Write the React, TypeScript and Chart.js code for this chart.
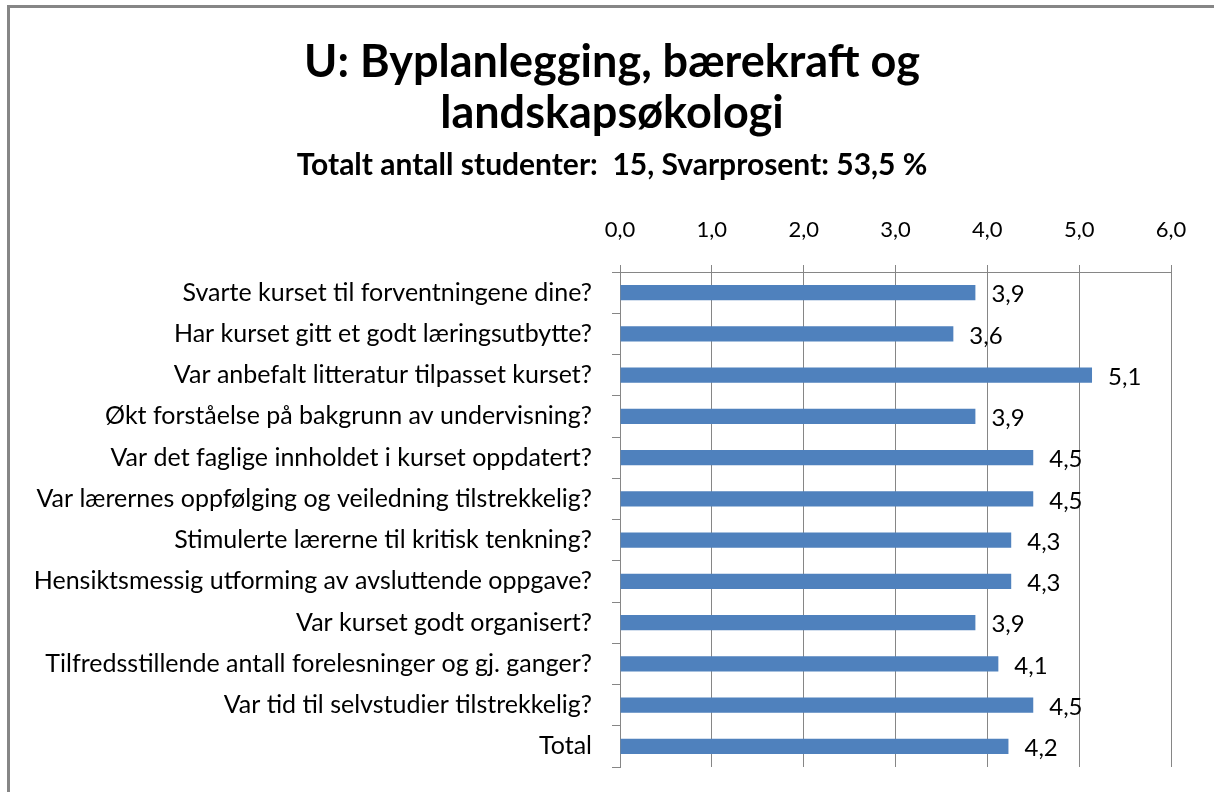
import React, { useEffect, useRef } from "react";
import { Chart, registerables } from "chart.js";

Chart.register(...registerables);

const categories: string[] = [
  "Svarte kurset til forventningene dine?",
  "Har kurset gitt et godt læringsutbytte?",
  "Var anbefalt litteratur tilpasset kurset?",
  "Økt forståelse på bakgrunn av undervisning?",
  "Var det faglige innholdet i kurset oppdatert?",
  "Var lærernes oppfølging og veiledning tilstrekkelig?",
  "Stimulerte lærerne til kritisk tenkning?",
  "Hensiktsmessig utforming av avsluttende oppgave?",
  "Var kurset godt organisert?",
  "Tilfredsstillende antall forelesninger og gj. ganger?",
  "Var tid til selvstudier tilstrekkelig?",
  "Total",
];

const values: number[] = [3.87, 3.63, 5.14, 3.87, 4.5, 4.5, 4.26, 4.26, 3.87, 4.12, 4.5, 4.23];

const axisMin = 0;
const axisMax = 6;
const axisStep = 1;

const titleLines: string[] = ["U: Byplanlegging, bærekraft og", "landskapsøkologi"];
const subtitleText = "Totalt antall studenter:  15, Svarprosent: 53,5 %";

const FONT = "Lato, 'Open Sans', 'DejaVu Sans', sans-serif";
const fmt = (v: number) => v.toFixed(1).replace(".", ",");

export default function App() {
  const ref = useRef<HTMLCanvasElement | null>(null);

  useEffect(() => {
    const canvas = ref.current;
    if (!canvas) return;

    const framePlugin = {
      id: "frameAndTitle",
      beforeDraw(chart: any) {
        const ctx = chart.ctx;
        ctx.save();
        ctx.fillStyle = "#ffffff";
        ctx.fillRect(0, 0, chart.width, chart.height);
        ctx.strokeStyle = "#868686";
        ctx.lineWidth = 3;
        ctx.beginPath();
        ctx.moveTo(8.5, chart.height);
        ctx.lineTo(8.5, 6.5);
        ctx.lineTo(chart.width, 6.5);
        ctx.stroke();
        ctx.restore();
      },
      afterDraw(chart: any) {
        const ctx = chart.ctx;
        ctx.save();
        ctx.fillStyle = "#000000";
        ctx.textAlign = "center";
        ctx.textBaseline = "middle";
        ctx.font = `bold 45px ${FONT}`;
        titleLines.forEach((line, i) => ctx.fillText(line, 612, 62 + i * 51));
        ctx.font = `bold 30px ${FONT}`;
        ctx.fillText(subtitleText, 612, 165);
        ctx.restore();
      },
    };

    const labelPlugin = {
      id: "barLabels",
      afterDatasetsDraw(chart: any) {
        const ctx = chart.ctx;
        const meta = chart.getDatasetMeta(0);
        ctx.save();
        ctx.fillStyle = "#000000";
        ctx.font = `24px ${FONT}`;
        ctx.textAlign = "left";
        ctx.textBaseline = "middle";
        meta.data.forEach((el: any, i: number) => {
          ctx.fillText(fmt(values[i]), el.x + 16, el.y + 2);
        });
        ctx.restore();
      },
    };

    const chart = new Chart(canvas, {
      type: "bar",
      data: {
        labels: categories,
        datasets: [
          {
            data: values,
            backgroundColor: "#4F81BD",
            borderWidth: 0,
            barPercentage: 0.37,
            categoryPercentage: 1,
          },
        ],
      },
      options: {
        indexAxis: "y",
        responsive: false,
        animation: false,
        layout: { padding: { left: 0, right: 43, top: 0, bottom: 25 } },
        plugins: {
          legend: { display: false },
          title: { display: false },
          tooltip: { enabled: false },
        },
        scales: {
          x: {
            position: "top",
            min: axisMin,
            max: axisMax,
            ticks: {
              stepSize: axisStep,
              color: "#000000",
              font: { family: FONT, size: 22 },
              padding: 22,
              callback: (v: any) => fmt(Number(v)),
            },
            grid: {
              color: "#868686",
              lineWidth: 1,
              tickLength: 7,
              drawOnChartArea: true,
              drawTicks: true,
            },
            border: { display: true, color: "#868686", width: 1 },
            afterFit: (s: any) => {
              s.height = 272;
              s.paddingLeft = 0;
              s.paddingRight = 0;
            },
          },
          y: {
            position: "left",
            ticks: {
              color: "#000000",
              font: { family: FONT, size: 25 },
              padding: 20,
              crossAlign: "near",
            },
            grid: {
              offset: true,
              drawOnChartArea: false,
              drawTicks: true,
              tickLength: 8,
              color: "#868686",
            },
            border: { display: true, color: "#868686", width: 1 },
            afterFit: (s: any) => {
              s.width = 620;
              s.paddingTop = 0;
              s.paddingBottom = 0;
            },
          },
        },
      },
      plugins: [framePlugin, labelPlugin],
    } as any);

    return () => chart.destroy();
  }, []);

  return (
    <div style={{ position: "fixed", left: 0, top: 0, width: 1214, height: 792 }}>
      <canvas ref={ref} width={1214} height={792} />
    </div>
  );
}
